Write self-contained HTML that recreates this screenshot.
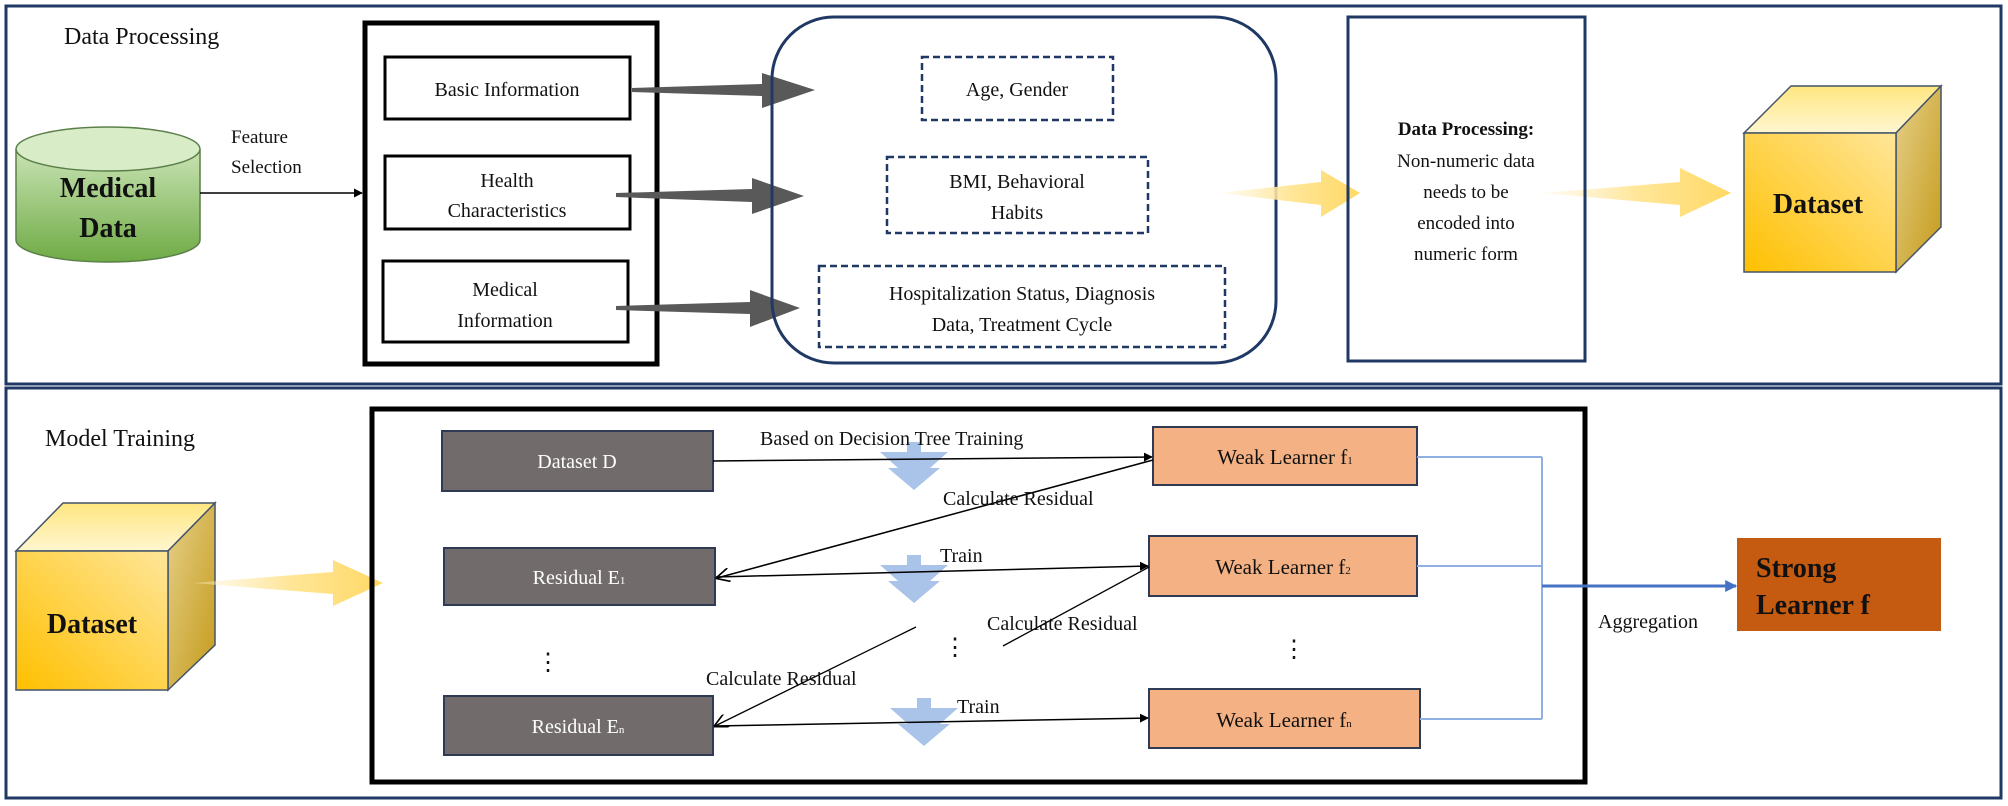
<!DOCTYPE html>
<html><head><meta charset="utf-8"><style>
html,body{margin:0;padding:0;background:#fff}
svg{display:block}
text{font-family:"Liberation Serif",serif;fill:#111}
</style></head><body>
<svg width="2008" height="806" viewBox="0 0 2008 806" xmlns="http://www.w3.org/2000/svg">
<defs>
<linearGradient id="grn" x1="0" y1="0" x2="0" y2="1"><stop offset="0" stop-color="#c9e3b4"/><stop offset="1" stop-color="#6fab45"/></linearGradient>
<linearGradient id="cyf" x1="0" y1="1" x2="1" y2="0"><stop offset="0" stop-color="#ffc000"/><stop offset="1" stop-color="#ffe699"/></linearGradient>
<linearGradient id="cyt" x1="0" y1="0" x2="0" y2="1"><stop offset="0" stop-color="#ffe680"/><stop offset="1" stop-color="#fff6d0"/></linearGradient>
<linearGradient id="cyr" x1="0" y1="0" x2="1" y2="1"><stop offset="0" stop-color="#e6d08a"/><stop offset="1" stop-color="#c49a18"/></linearGradient>
<linearGradient id="ya" x1="0" y1="0" x2="1" y2="0"><stop offset="0" stop-color="#fff2cc" stop-opacity="0.3"/><stop offset="0.5" stop-color="#ffe699"/><stop offset="1" stop-color="#ffd966"/></linearGradient>
<marker id="fa" viewBox="0 0 10 10" refX="9" refY="5" markerWidth="9" markerHeight="9" orient="auto" markerUnits="userSpaceOnUse"><path d="M0,0L10,5L0,10z" fill="#000"/></marker>
<marker id="oa" viewBox="0 0 10 10" refX="9" refY="5" markerWidth="14" markerHeight="14" orient="auto" markerUnits="userSpaceOnUse"><path d="M0,0L10,5L0,10" fill="none" stroke="#000" stroke-width="1.2"/></marker>
<marker id="ba" viewBox="0 0 10 10" refX="9" refY="5" markerWidth="12" markerHeight="12" orient="auto" markerUnits="userSpaceOnUse"><path d="M0,0L10,5L0,10z" fill="#4472c4"/></marker>
</defs>

<!-- panels -->
<rect x="6" y="6" width="1995" height="378" fill="none" stroke="#1f3864" stroke-width="3"/>
<rect x="6" y="388" width="1995" height="410" fill="none" stroke="#1f3864" stroke-width="3"/>
<text x="64" y="44" font-size="24">Data Processing</text>
<text x="45" y="446" font-size="24">Model Training</text>

<!-- cylinder -->
<path d="M16,149 L16,240 A92,22 0 0 0 200,240 L200,149" fill="url(#grn)" stroke="#5b7f49" stroke-width="1.5"/>
<ellipse cx="108" cy="149" rx="92" ry="22" fill="#d9ecc8" stroke="#5b7f49" stroke-width="1.5"/>
<text x="108" y="197" font-size="28" font-weight="bold" text-anchor="middle">Medical</text>
<text x="108" y="237" font-size="28" font-weight="bold" text-anchor="middle">Data</text>
<text x="231" y="143" font-size="19">Feature</text>
<text x="231" y="173" font-size="19">Selection</text>
<line x1="200" y1="193" x2="362" y2="193" stroke="#000" stroke-width="1.5" marker-end="url(#fa)"/>

<!-- feature box -->
<rect x="365" y="23" width="292" height="341" fill="none" stroke="#000" stroke-width="5"/>
<rect x="385" y="57" width="245" height="62" fill="#fff" stroke="#000" stroke-width="3"/>
<text x="507" y="96" font-size="20" text-anchor="middle">Basic Information</text>
<rect x="385" y="156" width="245" height="73" fill="#fff" stroke="#000" stroke-width="3"/>
<text x="507" y="187" font-size="20" text-anchor="middle">Health</text>
<text x="507" y="217" font-size="20" text-anchor="middle">Characteristics</text>
<rect x="383" y="261" width="245" height="81" fill="#fff" stroke="#000" stroke-width="3"/>
<text x="505" y="296" font-size="20" text-anchor="middle">Medical</text>
<text x="505" y="327" font-size="20" text-anchor="middle">Information</text>

<!-- gray arrows -->
<polygon points="632,88 762,84 762,73 815,90 762,108 762,96 632,92" fill="#595959"/>
<polygon points="616,193 752,189 752,178 804,196 752,214 752,202 616,197" fill="#595959"/>
<polygon points="616,306 750,302 750,290 800,308 750,327 750,314 616,310" fill="#595959"/>

<!-- rounded box -->
<rect x="772" y="17" width="504" height="346" rx="62" fill="none" stroke="#1f3864" stroke-width="3"/>
<rect x="922" y="57" width="191" height="63" fill="none" stroke="#1f3864" stroke-width="2.5" stroke-dasharray="7,4"/>
<text x="1017" y="96" font-size="20" text-anchor="middle">Age, Gender</text>
<rect x="887" y="157" width="261" height="76" fill="none" stroke="#1f3864" stroke-width="2.5" stroke-dasharray="7,4"/>
<text x="1017" y="188" font-size="20" text-anchor="middle">BMI, Behavioral</text>
<text x="1017" y="219" font-size="20" text-anchor="middle">Habits</text>
<rect x="819" y="266" width="406" height="81" fill="none" stroke="#1f3864" stroke-width="2.5" stroke-dasharray="7,4"/>
<text x="1022" y="300" font-size="20" text-anchor="middle">Hospitalization Status, Diagnosis</text>
<text x="1022" y="331" font-size="20" text-anchor="middle">Data, Treatment Cycle</text>

<!-- yellow arrows top -->
<polygon points="1219,193 1321,182 1321,170 1360,193 1321,217 1321,205" fill="url(#ya)"/>
<polygon points="1542,193 1680,182 1680,168 1731,193 1680,217 1680,205" fill="url(#ya)"/>

<!-- data processing box -->
<rect x="1348" y="17" width="237" height="344" fill="none" stroke="#1f3864" stroke-width="3"/>
<text x="1466" y="135" font-size="19" font-weight="bold" text-anchor="middle">Data Processing:</text>
<text x="1466" y="167" font-size="19" text-anchor="middle">Non-numeric data</text>
<text x="1466" y="198" font-size="19" text-anchor="middle">needs to be</text>
<text x="1466" y="229" font-size="19" text-anchor="middle">encoded into</text>
<text x="1466" y="260" font-size="19" text-anchor="middle">numeric form</text>

<!-- cube top -->
<polygon points="1791,86 1941,86 1896,133 1744,133" fill="url(#cyt)" stroke="#44546a" stroke-width="1.5"/>
<polygon points="1896,133 1941,86 1941,227 1896,272" fill="url(#cyr)" stroke="#44546a" stroke-width="1.5"/>
<rect x="1744" y="133" width="152" height="139" fill="url(#cyf)" stroke="#44546a" stroke-width="1.5"/>
<text x="1818" y="213" font-size="28" font-weight="bold" text-anchor="middle">Dataset</text>

<!-- cube bottom -->
<polygon points="63,503 215,503 168,551 16,551" fill="url(#cyt)" stroke="#44546a" stroke-width="1.5"/>
<polygon points="168,551 215,503 215,645 168,690" fill="url(#cyr)" stroke="#44546a" stroke-width="1.5"/>
<rect x="16" y="551" width="152" height="139" fill="url(#cyf)" stroke="#44546a" stroke-width="1.5"/>
<text x="92" y="633" font-size="28" font-weight="bold" text-anchor="middle">Dataset</text>
<polygon points="192,583 333,572 333,560 383,583 333,606 333,594" fill="url(#ya)"/>

<!-- training box -->
<rect x="372" y="409" width="1213" height="373" fill="none" stroke="#000" stroke-width="5"/>

<rect x="442" y="431" width="271" height="60" fill="#716c6b" stroke="#2f3b55" stroke-width="2"/>
<text x="577" y="468" font-size="20" text-anchor="middle" style="fill:#fff">Dataset D</text>
<rect x="444" y="548" width="271" height="57" fill="#716c6b" stroke="#2f3b55" stroke-width="2"/>
<text x="579" y="584" font-size="20" text-anchor="middle" style="fill:#fff">Residual E<tspan font-size="11" style="fill:#fff">1</tspan></text>
<rect x="444" y="696" width="269" height="59" fill="#716c6b" stroke="#2f3b55" stroke-width="2"/>
<text x="578" y="733" font-size="20" text-anchor="middle" style="fill:#fff">Residual E<tspan font-size="11" style="fill:#fff">n</tspan></text>

<rect x="1153" y="427" width="264" height="58" fill="#f4b183" stroke="#2f3b55" stroke-width="2"/>
<text x="1285" y="464" font-size="21" text-anchor="middle">Weak Learner f<tspan font-size="11">1</tspan></text>
<rect x="1149" y="536" width="268" height="60" fill="#f4b183" stroke="#2f3b55" stroke-width="2"/>
<text x="1283" y="574" font-size="21" text-anchor="middle">Weak Learner f<tspan font-size="11">2</tspan></text>
<rect x="1149" y="689" width="271" height="59" fill="#f4b183" stroke="#2f3b55" stroke-width="2"/>
<text x="1284" y="727" font-size="21" text-anchor="middle">Weak Learner f<tspan font-size="11">n</tspan></text>

<!-- blue down arrows -->
<g fill="#a9c4e8">
<polygon points="907,442 921,442 921,452 948,452 930,468 940,468 914,490 888,468 898,468 880,452 907,452"/>
<polygon points="907,555 921,555 921,565 948,565 930,581 940,581 914,603 888,581 898,581 880,565 907,565"/>
<polygon points="917,698 931,698 931,708 958,708 940,724 950,724 924,746 898,724 908,724 890,708 917,708"/>
</g>

<!-- connectors -->
<line x1="713" y1="461" x2="1152" y2="457" stroke="#000" stroke-width="1.5" marker-end="url(#fa)"/>
<line x1="1153" y1="460" x2="717" y2="578" stroke="#000" stroke-width="1.5" marker-end="url(#oa)"/>
<line x1="716" y1="577" x2="1148" y2="566" stroke="#000" stroke-width="1.5" marker-end="url(#fa)"/>
<line x1="1003" y1="646" x2="1149" y2="567" stroke="#000" stroke-width="1.3"/>
<line x1="916" y1="627" x2="715" y2="726" stroke="#000" stroke-width="1.3" marker-end="url(#oa)"/>
<line x1="714" y1="726" x2="1148" y2="718" stroke="#000" stroke-width="1.5" marker-end="url(#fa)"/>

<text x="760" y="445" font-size="20">Based on Decision Tree Training</text>
<text x="943" y="505" font-size="20">Calculate Residual</text>
<text x="940" y="562" font-size="20">Train</text>
<text x="987" y="630" font-size="20">Calculate Residual</text>
<text x="706" y="685" font-size="20">Calculate Residual</text>
<text x="957" y="713" font-size="20">Train</text>

<text x="548" y="670" font-size="24" text-anchor="middle">⋮</text>
<text x="955" y="655" font-size="24" text-anchor="middle">⋮</text>
<text x="1294" y="657" font-size="24" text-anchor="middle">⋮</text>

<!-- aggregation -->
<polyline points="1417,457 1542,457" fill="none" stroke="#8fb0e0" stroke-width="2"/>
<polyline points="1417,566 1542,566" fill="none" stroke="#8fb0e0" stroke-width="2"/>
<polyline points="1420,719 1542,719" fill="none" stroke="#8fb0e0" stroke-width="2"/>
<line x1="1542" y1="457" x2="1542" y2="719" stroke="#8fb0e0" stroke-width="2"/>
<line x1="1542" y1="586" x2="1736" y2="586" stroke="#4472c4" stroke-width="3" marker-end="url(#ba)"/>
<text x="1598" y="628" font-size="20">Aggregation</text>
<rect x="1737" y="538" width="204" height="93" fill="#c55a11"/>
<text x="1756" y="577" font-size="28" font-weight="bold">Strong</text>
<text x="1756" y="614" font-size="28" font-weight="bold">Learner f</text>
</svg>
</body></html>
